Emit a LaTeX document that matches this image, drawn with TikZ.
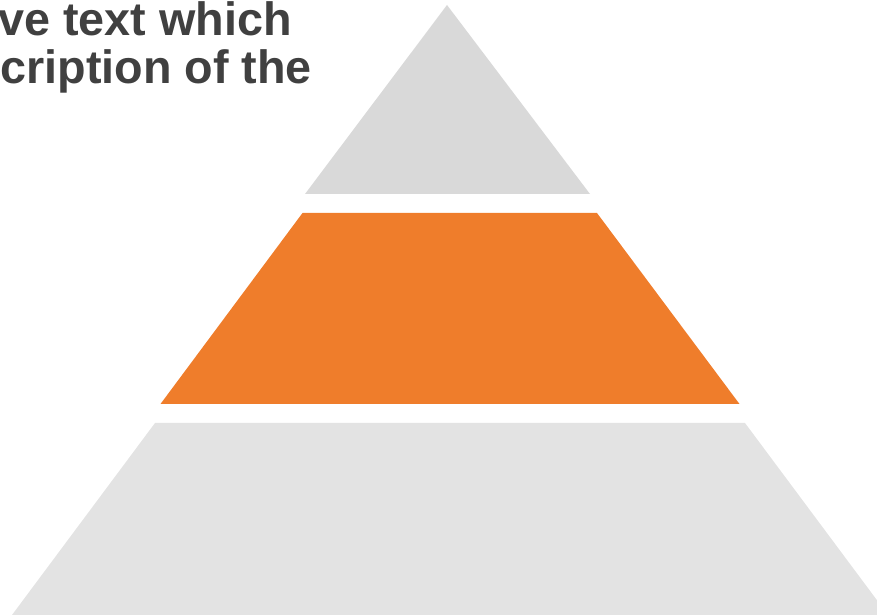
\documentclass[tikz,border=0pt]{standalone}
\usepackage{fontspec}
\setmainfont{Liberation Sans}
\usepackage{tikz}
\usetikzlibrary{positioning}
\definecolor{pyrTopGray}{RGB}{217, 217, 217}
\definecolor{pyrOrange}{RGB}{239, 125, 43}
\definecolor{pyrBaseGray}{RGB}{227, 227, 227}
\definecolor{pyrText}{RGB}{64, 64, 64}

\begin{document}
\begin{tikzpicture}[
  x=0.02cm, y=-0.02cm,
  level/.style={draw=none},
  caption/.style={
    anchor=base west,
    inner sep=0pt,
    text=pyrText,
    font=\fontsize{26.6}{28}\selectfont\bfseries
  }
]
  \useasboundingbox (0,0) rectangle (877,615);
  \clip (0,0) rectangle (877,615);
  % pyramid levels
  \fill[level,pyrTopGray] (447,5) -- (590,194) -- (305,194) -- cycle;
  \fill[level,pyrOrange] (302.5,213) -- (597,213) -- (739.5,404) -- (160.5,404) -- cycle;
  \fill[level,pyrBaseGray] (155,423) -- (745,423) -- (888,615) -- (12,615) -- cycle;
  % text cut at the left edge
  \node[caption] (line1) at (-2,35.5) {ve text which};
  \node[caption] (line2) at (0,83.5) {cription of the};
\end{tikzpicture}
\end{document}
